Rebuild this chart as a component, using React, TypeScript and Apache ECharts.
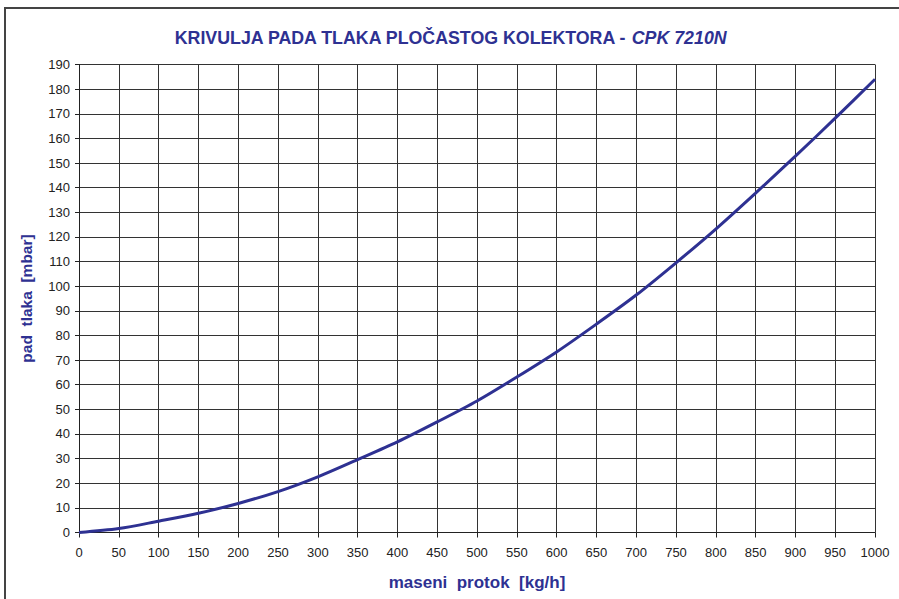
import React, { useEffect, useRef } from "react";
import * as echarts from "echarts";

const flow = [0, 50, 100, 150, 200, 250, 300, 350, 400, 450, 500, 550, 600, 650, 700, 750, 800, 850, 900, 950, 1000];
const pressureDrop = [0, 1.6, 4.6, 7.8, 11.8, 16.6, 22.6, 29.6, 36.8, 44.9, 53.4, 63.1, 73.3, 84.6, 96.4, 109.5, 123.2, 137.8, 152.8, 168.2, 184.0];

const titleMain = "KRIVULJA PADA TLAKA PLOČASTOG KOLEKTORA - ";
const titleModel = "CPK 7210N";
const xAxisName = "maseni  protok  [kg/h]";
const yAxisName = "pad  tlaka  [mbar]";

const BLUE = "#2E3192";
const FONT = "Liberation Sans, Arial, sans-serif";

export default function App() {
  const ref = useRef<HTMLDivElement>(null);
  useEffect(() => {
    if (!ref.current) return;
    const chart = echarts.init(ref.current, null, { renderer: "svg" });
    const data = flow.map((x, i) => [x, pressureDrop[i]]);
    chart.setOption({
      animation: false,
      backgroundColor: "#ffffff",
      textStyle: { fontFamily: FONT },
      title: {
        text: "{a|" + titleMain + "}{b|" + titleModel + "}",
        left: 445,
        top: 24,
        textAlign: "center",
        textStyle: {
          rich: {
            a: { fontSize: 17.8, fontWeight: "bold", color: BLUE, fontFamily: FONT },
            b: { fontSize: 17.8, fontWeight: "bold", fontStyle: "italic", color: BLUE, fontFamily: FONT },
          },
        },
      },
      graphic: [
        {
          type: "rect",
          shape: { x: 5, y: 8, width: 910, height: 620 },
          style: { fill: "none", stroke: "#444", lineWidth: 2 },
          silent: true,
        },
      ],
      grid: { left: 79, top: 64.5, width: 796, height: 468, containLabel: false },
      xAxis: {
        type: "value",
        min: 0,
        max: 1000,
        interval: 50,
        name: xAxisName,
        nameLocation: "middle",
        nameGap: 41,
        nameTextStyle: { color: BLUE, fontSize: 17, fontWeight: "bold", fontFamily: FONT },
        axisLine: { show: true, lineStyle: { color: "#222", width: 1 } },
        axisTick: { show: true, length: 5, lineStyle: { color: "#222" } },
        axisLabel: { color: "#222", fontSize: 13, margin: 13, fontFamily: FONT, formatter: (v: number) => String(v) },
        splitLine: { show: true, lineStyle: { color: "#333", width: 1 } },
      },
      yAxis: {
        type: "value",
        min: 0,
        max: 190,
        interval: 10,
        name: yAxisName,
        nameLocation: "middle",
        nameGap: 45,
        nameRotate: 90,
        nameTextStyle: { color: BLUE, fontSize: 15.5, fontWeight: "bold", fontFamily: FONT },
        axisLine: { show: true, lineStyle: { color: "#222", width: 1 } },
        axisTick: { show: true, length: 4, lineStyle: { color: "#222" } },
        axisLabel: { color: "#222", fontSize: 13, margin: 9, fontFamily: FONT },
        splitLine: { show: true, lineStyle: { color: "#333", width: 1 } },
      },
      series: [
        {
          type: "line",
          data,
          smooth: 0.3,
          showSymbol: false,
          symbol: "none",
          lineStyle: { color: BLUE, width: 3 },
        },
      ],
    });
    return () => chart.dispose();
  }, []);
  return <div ref={ref} style={{ width: 899, height: 599, position: "absolute", left: 0, top: 0 }} />;
}
